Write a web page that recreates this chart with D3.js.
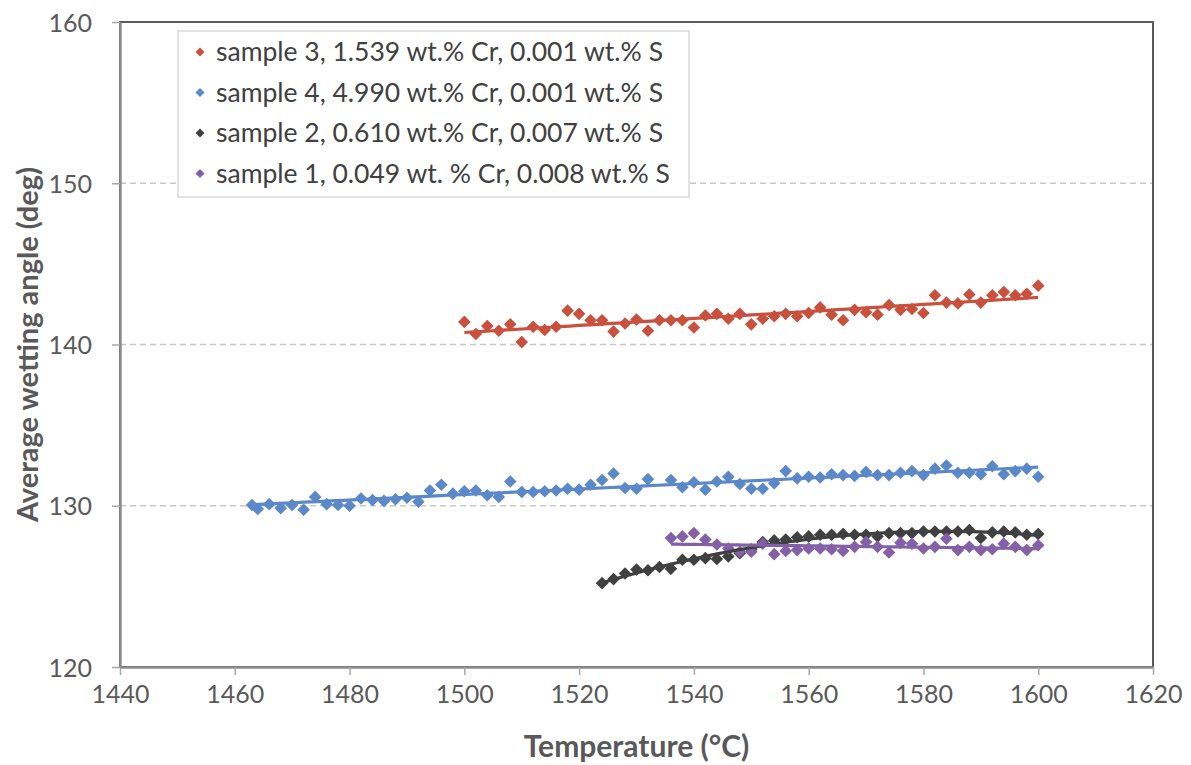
<!DOCTYPE html>
<html lang="en">
<head>
<meta charset="utf-8">
<title>Average wetting angle vs temperature</title>
<script src="https://d3js.org/d3.v7.min.js"></script>
<style>
  body { margin: 0; background: #fff; }
  svg { display: block; font-family: Lato, "Open Sans", sans-serif; }
</style>
</head>
<body>
<svg id="chart" width="1191" height="765"></svg>
<script>
// ---- data ----
const s3Temp = [1500,1502,1504,1506,1508,1510,1512,1514,1516,1518,1520,1522,1524,1526,1528,1530,1532,1534,1536,1538,1540,1542,1544,1546,1548,1550,1552,1554,1556,1558,1560,1562,1564,1566,1568,1570,1572,1574,1576,1578,1580,1582,1584,1586,1588,1590,1592,1594,1596,1598,1600];
const s3Angle = [141.4,140.65,141.15,140.85,141.25,140.15,141.1,140.9,141.1,142.1,141.9,141.5,141.5,140.8,141.3,141.55,140.85,141.5,141.5,141.5,141.05,141.8,141.9,141.6,141.9,141.25,141.6,141.75,141.9,141.75,141.95,142.3,141.85,141.5,142.15,142.0,141.85,142.45,142.15,142.2,141.95,143.05,142.6,142.55,143.1,142.6,143.05,143.25,143.05,143.15,143.65];

const s4Temp = [1463,1464,1466,1468,1470,1472,1474,1476,1478,1480,1482,1484,1486,1488,1490,1492,1494,1496,1498,1500,1502,1504,1506,1508,1510,1512,1514,1516,1518,1520,1522,1524,1526,1528,1530,1532,1536,1538,1540,1542,1544,1546,1548,1550,1552,1554,1556,1558,1560,1562,1564,1566,1568,1570,1572,1574,1576,1578,1580,1582,1584,1586,1588,1590,1592,1594,1596,1598,1600];
const s4Angle = [130.05,129.8,130.1,129.85,130.05,129.75,130.55,130.1,130.05,130.0,130.45,130.35,130.3,130.4,130.5,130.25,130.95,131.3,130.75,130.9,130.95,130.65,130.55,131.5,130.85,130.85,130.9,130.95,131.05,131.0,131.3,131.6,132.0,131.1,131.05,131.65,131.6,131.15,131.45,131.0,131.5,131.8,131.35,131.05,131.05,131.4,132.15,131.7,131.8,131.75,131.95,131.9,131.85,132.1,131.9,131.9,132.05,132.15,131.9,132.3,132.5,132.05,132.05,131.95,132.45,131.95,132.15,132.3,131.8];

const s2Temp = [1524,1526,1528,1530,1532,1534,1536,1538,1540,1542,1544,1546,1548,1550,1552,1554,1556,1558,1560,1562,1564,1566,1568,1570,1572,1574,1576,1578,1580,1582,1584,1586,1588,1590,1592,1594,1596,1598,1600];
const s2Angle = [125.2,125.45,125.8,126.05,126.0,126.2,126.1,126.65,126.65,126.75,126.7,126.85,127.05,127.3,127.75,127.85,127.9,128.05,128.1,128.2,128.2,128.25,128.2,128.2,128.1,128.3,128.3,128.3,128.4,128.4,128.4,128.4,128.5,128.0,128.35,128.4,128.35,128.2,128.25];

const s1Temp = [1536,1538,1540,1542,1544,1546,1548,1550,1552,1554,1556,1558,1560,1562,1564,1566,1568,1570,1572,1574,1576,1578,1580,1582,1584,1586,1588,1590,1592,1594,1596,1598,1600];
const s1Angle = [128.0,128.1,128.3,127.9,127.6,127.35,127.15,127.15,127.65,127.0,127.2,127.25,127.35,127.35,127.3,127.2,127.45,127.75,127.45,127.1,127.7,127.65,127.35,127.45,127.95,127.25,127.45,127.25,127.3,127.65,127.45,127.25,127.55];

const legendLabels = [
  "sample 3, 1.539 wt.% Cr, 0.001 wt.% S",
  "sample 4, 4.990 wt.% Cr, 0.001 wt.% S",
  "sample 2, 0.610 wt.% Cr, 0.007 wt.% S",
  "sample 1, 0.049 wt. % Cr, 0.008 wt.% S"
];
const xTicks = [1440,1460,1480,1500,1520,1540,1560,1580,1600,1620];
const yTicks = [120,130,140,150,160];

// series: legend order, trend type as in the spreadsheet (linear / 2nd order poly)
const series = [
  {temp: s3Temp, angle: s3Angle, color: "#c9503c", fit: 1},
  {temp: s4Temp, angle: s4Angle, color: "#5a88c9", fit: 1},
  {temp: s2Temp, angle: s2Angle, color: "#404040", fit: 2},
  {temp: s1Temp, angle: s1Angle, color: "#8460a8", fit: 1}
];

// ---- layout ----
const svg = d3.select("#chart");
const plot = {left: 120, right: 1153, top: 22, bottom: 667};

const x = d3.scaleLinear().domain([1440, 1620]).range([plot.left, plot.right]);
const y = d3.scaleLinear().domain([120, 160]).range([plot.bottom, plot.top]);

// least squares polynomial fit (degree 1 or 2), x centred for stability
function polyFit(xs, ys, deg) {
  const m = d3.mean(xs);
  const n = deg + 1;
  const A = Array.from({length: n}, () => new Array(n + 1).fill(0));
  xs.forEach((xv, i) => {
    const t = xv - m;
    for (let r = 0; r < n; r++) {
      for (let c = 0; c < n; c++) A[r][c] += Math.pow(t, r + c);
      A[r][n] += ys[i] * Math.pow(t, r);
    }
  });
  for (let i = 0; i < n; i++) {
    for (let k = i + 1; k < n; k++) {
      const f = A[k][i] / A[i][i];
      for (let j = i; j <= n; j++) A[k][j] -= f * A[i][j];
    }
  }
  const coef = new Array(n).fill(0);
  for (let i = n - 1; i >= 0; i--) {
    let s = A[i][n];
    for (let j = i + 1; j < n; j++) s -= A[i][j] * coef[j];
    coef[i] = s / A[i][i];
  }
  return t => coef.reduce((acc, c, p) => acc + c * Math.pow(t - m, p), 0);
}

// gridlines
svg.append("g")
  .selectAll("line")
  .data(yTicks.filter(d => d > 120 && d < 160))
  .join("line")
  .attr("x1", plot.left).attr("x2", plot.right)
  .attr("y1", d => y(d)).attr("y2", d => y(d))
  .attr("stroke", "#c8c8c8")
  .attr("stroke-width", 1.3)
  .attr("stroke-dasharray", "6,4");

// plot area frame (top/right dark)
svg.append("rect")
  .attr("x", plot.left).attr("y", plot.top)
  .attr("width", plot.right - plot.left).attr("height", plot.bottom - plot.top)
  .attr("fill", "none")
  .attr("stroke", "#595959")
  .attr("stroke-width", 2);

// axes
const xAxis = svg.append("g")
  .attr("transform", `translate(0,${plot.bottom})`)
  .call(d3.axisBottom(x).tickValues(xTicks).tickFormat(d3.format("d"))
          .tickSize(8).tickPadding(10).tickSizeOuter(0));
const yAxis = svg.append("g")
  .attr("transform", `translate(${plot.left},0)`)
  .call(d3.axisLeft(y).tickValues(yTicks).tickFormat(d3.format("d"))
          .tickSize(8).tickPadding(20).tickSizeOuter(0));

[xAxis, yAxis].forEach(ax => {
  ax.select(".domain").attr("stroke", "#8c8c8c").attr("stroke-width", 2.5);
  ax.selectAll(".tick line").attr("stroke", "#a6a6a6").attr("stroke-width", 1.5);
  ax.selectAll(".tick text")
    .attr("fill", "#595959")
    .style("font-size", "25px")
    .style("font-family", "Lato, 'Open Sans', sans-serif");
});
yAxis.selectAll(".tick text").attr("dy", "0.36em");

// markers
const diamond = size => `M0,${-size}L${size},0L0,${size}L${-size},0Z`;

series.forEach(s => {
  svg.append("g")
    .selectAll("path")
    .data(s.temp.map((t, i) => [t, s.angle[i]]))
    .join("path")
    .attr("d", diamond(6.3))
    .attr("transform", d => `translate(${x(d[0])},${y(d[1])})`)
    .attr("fill", s.color);
});

// trend lines
series.forEach(s => {
  const f = polyFit(s.temp, s.angle, s.fit);
  const lo = d3.min(s.temp), hi = d3.max(s.temp);
  const pts = d3.range(0, 61).map(i => lo + (hi - lo) * i / 60);
  svg.append("path")
    .datum(pts)
    .attr("fill", "none")
    .attr("stroke", s.color)
    .attr("stroke-width", 3.2)
    .attr("d", d3.line().x(t => x(t)).y(t => y(f(t))));
});

// legend
const legend = svg.append("g");
legend.append("rect")
  .attr("x", 178).attr("y", 31)
  .attr("width", 511).attr("height", 166)
  .attr("fill", "#fff")
  .attr("stroke", "#d9d9d9")
  .attr("stroke-width", 1.5);

const rows = legend.selectAll("g.row")
  .data(series)
  .join("g")
  .attr("class", "row")
  .attr("transform", (d, i) => `translate(200,${52 + i * 40.5})`);
rows.append("path")
  .attr("d", diamond(4.5))
  .attr("fill", d => d.color);
rows.append("text")
  .attr("x", 16)
  .attr("dy", "0.35em")
  .attr("fill", "#404040")
  .style("font-size", "26.5px")
  .text((d, i) => legendLabels[i]);

// axis titles
svg.append("text")
  .attr("x", (plot.left + plot.right) / 2)
  .attr("y", 757)
  .attr("text-anchor", "middle")
  .attr("fill", "#595959")
  .style("font-size", "30px")
  .style("font-weight", "bold")
  .text("Temperature (°C)");

svg.append("text")
  .attr("transform", `translate(38,${(plot.top + plot.bottom) / 2}) rotate(-90)`)
  .attr("text-anchor", "middle")
  .attr("fill", "#595959")
  .style("font-size", "29px")
  .style("font-weight", "bold")
  .text("Average wetting angle (deg)");
</script>
</body>
</html>
